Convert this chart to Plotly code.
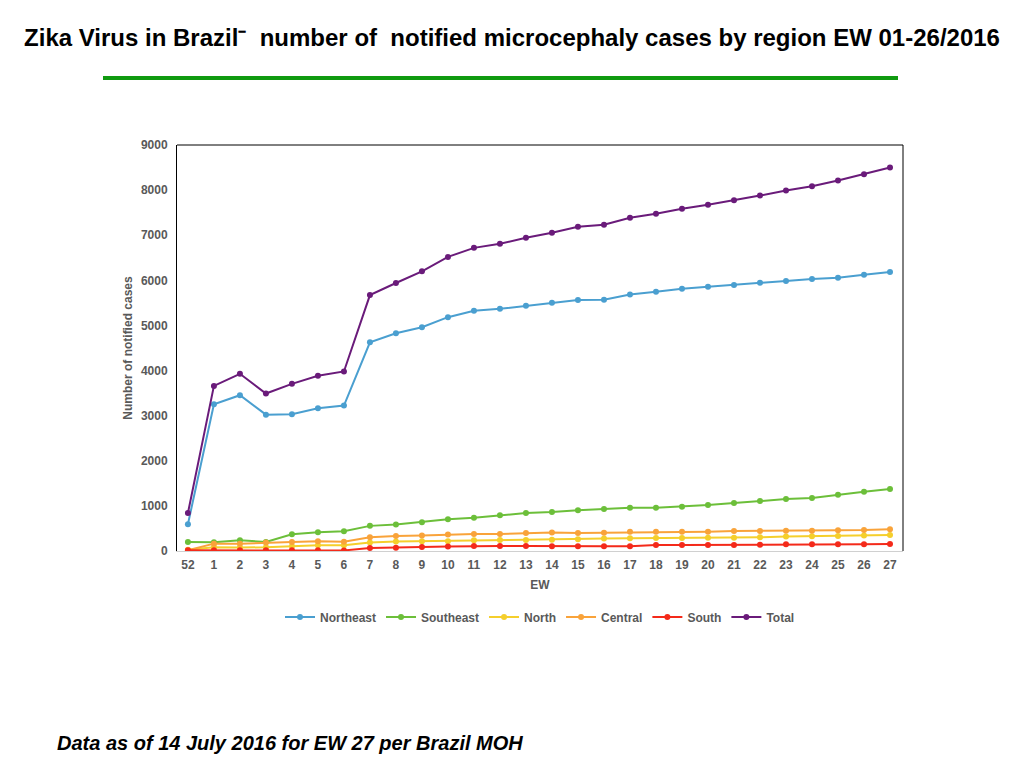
import plotly.graph_objects as go

# Epidemiological weeks (EW 52 of 2015, then EW 1-27 of 2016)
weeks = ["52"] + [str(i) for i in range(1, 28)]

northeast = [594, 3252, 3453, 3022, 3030, 3163, 3223, 4626, 4827, 4960, 5183, 5324, 5369, 5436,
             5502, 5562, 5570, 5688, 5747, 5814, 5859, 5896, 5948, 5985, 6030, 6059, 6126, 6186]
southeast = [200, 195, 238, 200, 371, 416, 438, 557, 587, 639, 706, 735, 795, 840,
             862, 906, 929, 958, 960, 981, 1018, 1062, 1107, 1152, 1174, 1248, 1315, 1375]
north = [30, 82, 78, 82, 104, 126, 126, 186, 208, 215, 218, 238, 245, 245,
         248, 260, 275, 285, 290, 290, 292, 292, 305, 320, 327, 334, 342, 357]
central = [15, 163, 163, 186, 200, 215, 205, 305, 334, 342, 364, 379, 379, 401,
           409, 401, 405, 424, 424, 426, 428, 446, 446, 448, 448, 461, 465, 483]
south = [15, 15, 15, 15, 15, 15, 12, 67, 70, 89, 97, 111, 111, 111,
         104, 106, 106, 108, 134, 134, 134, 134, 136, 149, 149, 149, 150, 156]
total = [840, 3660, 3928, 3490, 3705, 3883, 3980, 5673, 5941, 6200, 6520, 6720, 6810, 6943,
         7055, 7188, 7233, 7389, 7478, 7589, 7678, 7775, 7878, 7990, 8087, 8213, 8354, 8503]

series = [
    ("Northeast", northeast, "#4a9fd0"),
    ("Southeast", southeast, "#6cbf3a"),
    ("North", north, "#f5cf2c"),
    ("Central", central, "#f9a33a"),
    ("South", south, "#f42a1a"),
    ("Total", total, "#6a1b7a"),
]

GRAY = "#595959"
FONT = "Liberation Sans, Arial, sans-serif"

# the page body adds an 8px margin, so the figure is sized to fit inside it
W, H = 1008, 752
L, T = 169, 137
PW, PH = 726, 406

fig = go.Figure()

for name, values, color in series:
    fig.add_trace(go.Scatter(
        x=weeks,
        y=values,
        mode="lines+markers",
        name=f"<b>{name}</b>",
        line=dict(color=color, width=2),
        marker=dict(color=color, size=6),
    ))

fig.update_layout(
    width=W,
    height=H,
    margin=dict(l=L, r=W - L - PW, t=T, b=H - T - PH, pad=0),
    paper_bgcolor="white",
    plot_bgcolor="white",
    font=dict(family=FONT, color=GRAY),
    title=dict(
        text="<b>Zika Virus in Brazil\u207b  number of  notified microcephaly cases by region EW 01-26/2016</b>",
        x=0.5, xref="container", xanchor="center",
        y=1 - 30 / H, yref="container", yanchor="middle",
        font=dict(size=24, color="black", family=FONT),
    ),
    legend=dict(
        orientation="h",
        x=0.5, xanchor="center",
        y=-66 / PH, yanchor="middle",
        font=dict(size=12, color=GRAY, family=FONT),
        itemwidth=30,
    ),
)

fig.update_xaxes(
    type="category",
    range=[-0.42, 27.5],
    showgrid=False,
    showline=True,
    linecolor="#d0d0d0",
    linewidth=1,
    ticks="",
    ticklabelstandoff=3,
    tickfont=dict(size=12, color=GRAY, family=FONT),
    tickprefix="<b>", ticksuffix="</b>",
    title=dict(text="<b>EW</b>", font=dict(size=12, color=GRAY), standoff=9),
)

fig.update_yaxes(
    range=[0, 9000],
    dtick=1000,
    showgrid=False,
    zeroline=False,
    showline=True,
    linecolor="black",
    linewidth=1,
    ticks="",
    ticklabelstandoff=6,
    tickfont=dict(size=12, color=GRAY, family=FONT),
    tickprefix="<b>", ticksuffix="</b>",
    title=dict(text="<b>Number of notified cases</b>", font=dict(size=12, color=GRAY), standoff=5),
)

# black frame on top and right of plot area
fig.add_shape(type="line", xref="paper", yref="paper", x0=0, x1=1, y0=1, y1=1,
              line=dict(color="black", width=1))
fig.add_shape(type="line", xref="paper", yref="paper", x0=1, x1=1, y0=0, y1=1,
              line=dict(color="black", width=1))

# green rule under the title
fig.add_shape(type="line", xref="paper", yref="paper",
              x0=(103 - 177) / PW, x1=(898 - 177) / PW,
              y0=(551 - 78) / PH, y1=(551 - 78) / PH,
              line=dict(color="#109a10", width=4))

fig.add_annotation(
    text="<b><i>Data as of 14 July 2016 for EW 27 per Brazil MOH</i></b>",
    xref="paper", yref="paper",
    x=(55 - 177) / PW, y=(551 - 743) / PH,
    xanchor="left", yanchor="middle",
    showarrow=False,
    font=dict(size=20, color="black", family=FONT),
)

fig.write_html("out.html")
